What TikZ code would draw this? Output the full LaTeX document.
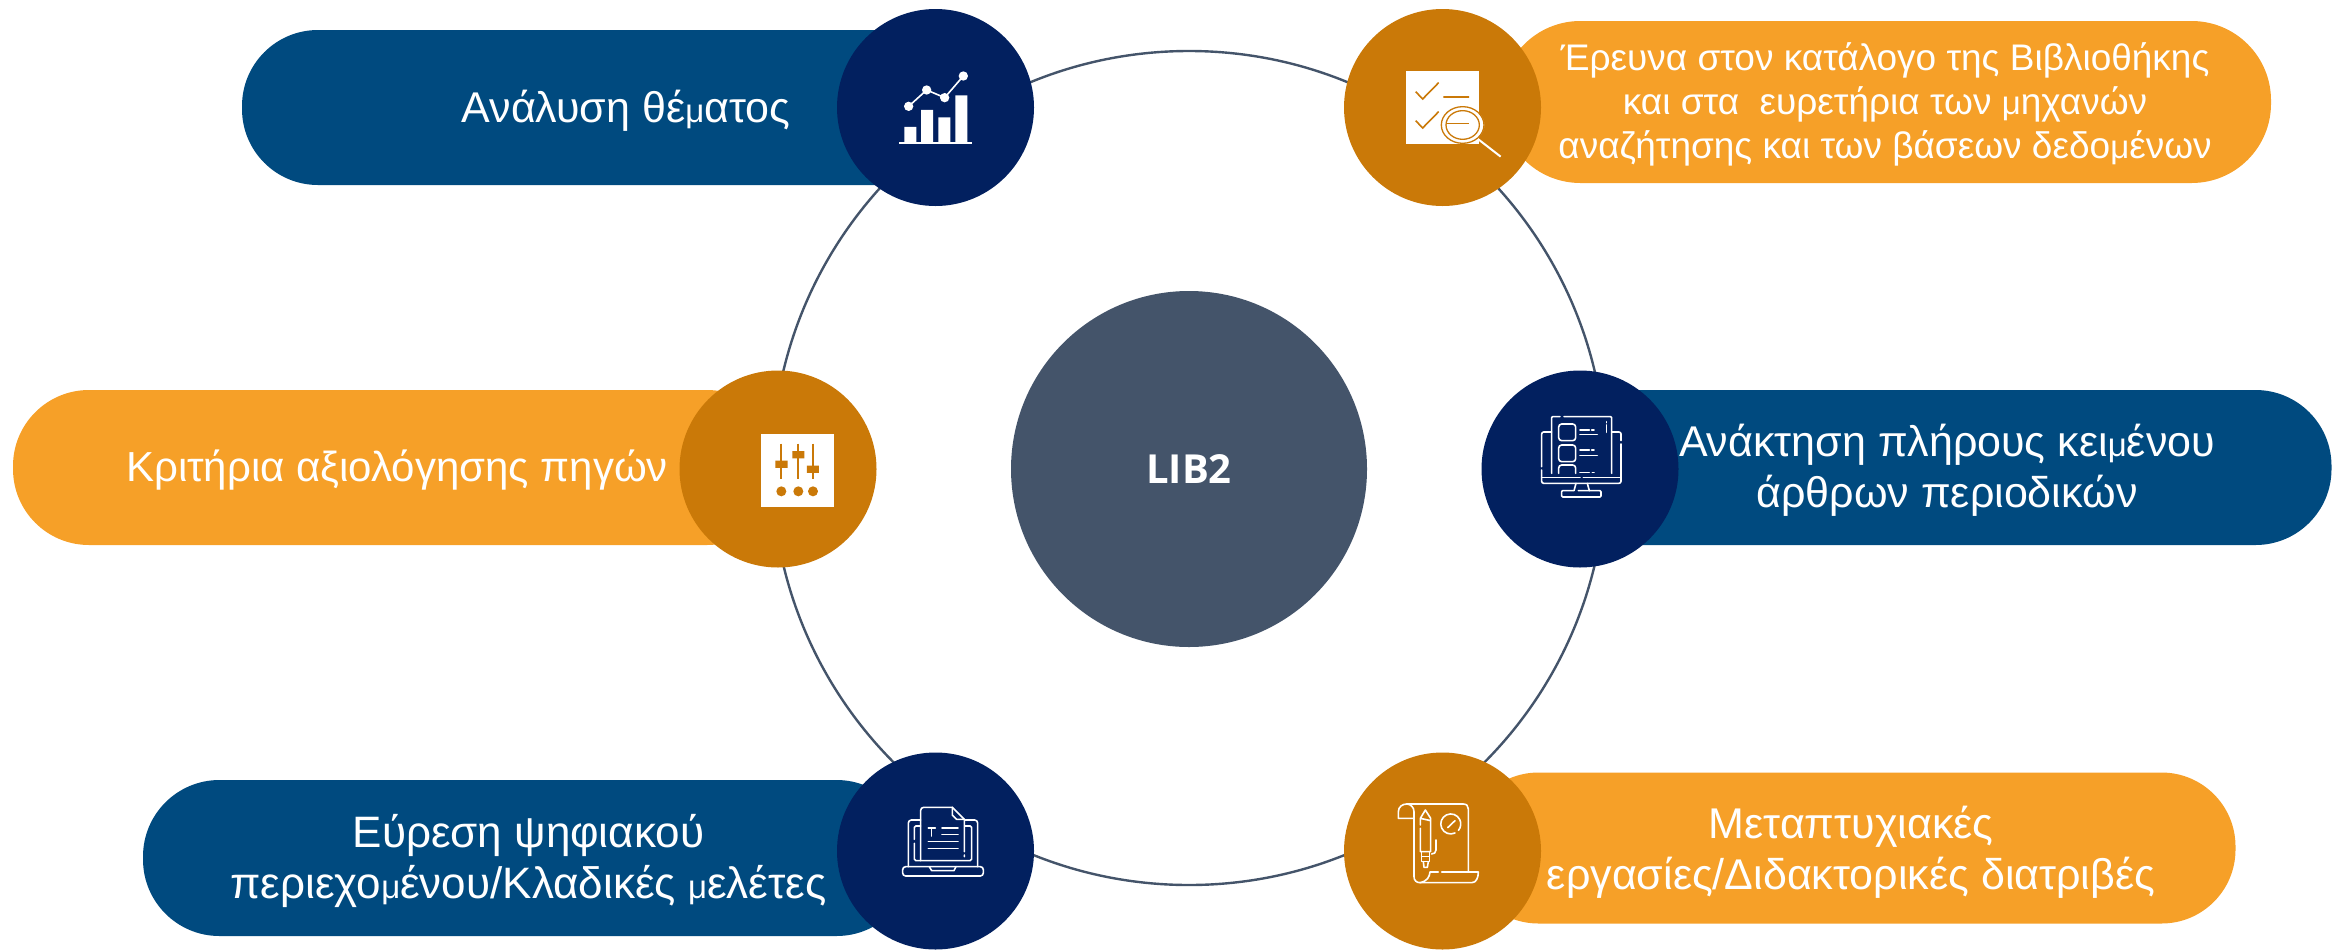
\documentclass[tikz,border=0pt]{standalone}
\usepackage{fontspec}
\setmainfont{Liberation Sans}
\newfontfamily\labfont[Scale=1]{Open Sans}
\definecolor{pillblue}{HTML}{004A7F}
\definecolor{navy}{HTML}{02205F}
\definecolor{pillorange}{HTML}{F6A028}
\definecolor{darkorange}{HTML}{CA7908}
\definecolor{slate}{HTML}{44546A}
\newcommand{\musz}{33}
\newcommand{\smu}{{\fontsize{\musz}{\musz}\selectfont μ}}
\tikzset{
  pill/.style={draw=none,minimum height=#1,rounded corners=0.49*#1,inner sep=0pt},
  disc/.style={circle,minimum size=197,inner sep=0pt,draw=none},
  lab/.style={text=white,align=center,font=\fontsize{43}{51}\selectfont,inner sep=0pt},
  ico/.style={white,line width=1.6pt,line cap=round,line join=round},
  zoomed/.style={x=0.3333pt,y=-0.3333pt}
}
\begin{document}
\begin{tikzpicture}[x=1pt,y=-1pt]
\useasboundingbox (0,0) rectangle (2341,951);
\node[circle,draw=slate,line width=2.4pt,minimum size=834,inner sep=0pt] (ring) at (1189,468) {};
\node[circle,fill=slate,minimum size=356,inner sep=0pt,text=white,font=\labfont\fontsize{40}{44}\fontseries{b}\selectfont] (hub) at (1189,469) {LIB2};

\node[pill=155,fill=pillblue,minimum width=718] (p1) at (601,107.5) {};
\node[pill=162,fill=pillorange,minimum width=770] (p2) at (1886,102) {};
\node[pill=155,fill=pillorange,minimum width=770] (p3) at (398,467.5) {};
\node[pill=155,fill=pillblue,minimum width=791] (p4) at (1936,467.5) {};
\node[pill=156,fill=pillblue,minimum width=770] (p5) at (528,858) {};
\node[pill=151,fill=pillorange,minimum width=771] (p6) at (1850,848) {};

\node[disc,fill=navy] (d1) at (935.5,107.5) {};
\node[disc,fill=darkorange] (d2) at (1442.5,107.5) {};
\node[disc,fill=darkorange] (d3) at (778,469) {};
\node[disc,fill=navy] (d4) at (1580,469) {};
\node[disc,fill=navy] (d5) at (935.5,851) {};
\node[disc,fill=darkorange] (d6) at (1442.5,851) {};

\node[lab] (t1) at (626,111) {Ανάλυση θέ\smu ατος};
\node[lab,font=\fontsize{37}{44}\selectfont] (t2) at (1885,104) {\renewcommand{\musz}{29}Έρευνα στον κατάλογο της Βιβλιοθήκης\\και στα\ \ ευρετήρια των \smu ηχανών\\αναζήτησης και των βάσεων δεδο\smu ένων};
\node[lab,font=\fontsize{42}{51}\selectfont] (t3) at (397,470.5) {Κριτήρια αξιολόγησης πηγών};
\node[lab] (t4) at (1947,470) {Ανάκτηση πλήρους κει\smu ένου\\άρθρων περιοδικών};
\node[lab,font=\fontsize{44}{51}\selectfont] (t5) at (528.5,861) {Εύρεση ψηφιακού\\περιεχο\smu ένου/Κλαδικές \smu ελέτες};
\node[lab] (t6) at (1851,852) {Μεταπτυχιακές\\εργασίες/Διδακτορικές διατριβές};

% icon 1: chart
\begin{scope}[shift={(820,0)},zoomed]
\fill[white] (253,381) rectangle (289,428) (303,330) rectangle (339,428) (355,352) rectangle (391,428) (406,286) rectangle (442,428);
\draw[ico,line cap=butt] (238,429) -- (456,429);
\draw[ico] (266,319) -- (320,270) -- (374,293) -- (430,228);
\fill[white] (266,319) circle (14) (320,270) circle (14) (374,293) circle (14) (430,228) circle (14);
\end{scope}

% icon 2: checklist
\begin{scope}[shift={(1340,0)},zoomed]
\fill[white] (198,214) rectangle (416,432);
\draw[darkorange,line width=1.6pt] (227,275) -- (248,297) -- (296,248) (227,362) -- (248,384) -- (296,335) (310,291) -- (387,291);
\draw[white,line width=2pt] (415,418) -- (482,470);
\fill[white] (368,375) ellipse (65 and 56);
\draw[darkorange,line width=1.3pt] (368,375) ellipse (64 and 55);
\draw[darkorange,line width=1.3pt] (368,375) ellipse (50 and 43);
\draw[darkorange,line width=1.6pt] (320,370) -- (387,370);
\end{scope}

% icon 3: sliders
\begin{scope}[shift={(670,370)},zoomed]
\fill[white] (272,192) rectangle (491,411);
\draw[darkorange,line width=2pt] (334,221) -- (334,327) (385,221) -- (385,327) (429,221) -- (429,327);
\fill[darkorange] (316,272) rectangle (353,294) (367,243) rectangle (403,265) (411,287) rectangle (447,309);
\fill[darkorange] (334,364) circle (15) (385,364) circle (15) (429,364) circle (15);
\end{scope}

% icon 4: monitor
\begin{scope}[shift={(1480,370)},zoomed]
\draw[ico,rounded corners=1pt] (215,310) -- (215,140) -- (240,140) (252,140) -- (395,140) -- (395,310);
\draw[ico,rounded corners=2pt] (215,186) -- (185,186) -- (185,290) (185,300) -- (185,340) -- (423,340) -- (423,222) (423,212) -- (423,186) -- (395,186);
\draw[ico] (185,322) -- (300,322) (310,322) -- (423,322);
\draw[ico] (288,340) -- (282,362) (322,340) -- (328,362);
\draw[ico,rounded corners=1pt] (280,362) -- (245,362) -- (245,381) -- (363,381) -- (363,362) -- (295,362);
\draw[ico,rounded corners=3pt] (236,162) rectangle (287,212) (236,225) rectangle (287,275);
\draw[ico,rounded corners=3pt] (236,310) -- (236,285) -- (287,285) -- (287,310);
\draw[ico] (300,180) -- (328,180) (335,180) -- (342,180) (300,194) -- (352,194)
 (300,240) -- (328,240) (335,240) -- (342,240) (300,257) -- (352,257)
 (300,307) -- (328,307) (337,307) -- (342,307)
 (379,155) -- (379,158) (379,165) -- (379,187);
\end{scope}

% icon 5: laptop
\begin{scope}[shift={(830,750)},zoomed]
\draw[ico,rounded corners=3pt] (218,350) -- (460,350) -- (460,378) -- (218,378) -- cycle;
\draw[ico,rounded corners=3pt] (235,350) -- (235,210) -- (272,210) (405,210) -- (443,210) -- (443,350);
\draw[ico,rounded corners=1.5pt] (253,268) -- (253,228) -- (272,228) (405,228) -- (425,228) -- (425,332) -- (253,332) -- (253,280);
\draw[ico,rounded corners=3pt] (272,332) -- (272,172) -- (367,172);
\draw[ico] (367,172) -- (403,208) -- (403,305) (403,315) -- (403,320);
\draw[ico] (367,172) -- (367,195) -- (380,208) -- (403,208);
\draw[ico] (298,350) -- (305,362) -- (372,362) -- (378,350);
\draw[ico] (295,234) -- (316,234) (305,234) -- (305,258) (336,234) -- (384,234) (336,254) -- (384,254) (295,274) -- (384,274) (295,295) -- (384,295);
\end{scope}

% icon 6: scroll
\begin{scope}[shift={(1340,750)},zoomed]
\draw[ico] (200,162) -- (370,162) .. controls (380,162) and (385,168) .. (385,177) -- (385,365);
\draw[ico] (222,205) -- (175,205) -- (175,185) .. controls (175,170) and (188,162) .. (200,162) .. controls (212,162) and (222,172) .. (222,185) -- (222,380) .. controls (222,392) and (230,398) .. (240,398) -- (395,398) .. controls (408,398) and (415,385) .. (415,366) -- (305,366);
\draw[ico] (295,366) -- (270,366) .. controls (268,382) and (262,393) .. (240,398);
\draw[ico] (241,205) -- (256,180) -- (272,205) -- (272,305) -- (241,305) -- (241,235) (241,225) -- (241,205) -- (272,212);
\draw[ico] (245,305) -- (245,335) -- (268,335) -- (268,305) (245,320) -- (268,320);
\draw[ico] (250,335) -- (252,352) -- (262,352) -- (265,335);
\draw[ico] (288,270) -- (288,300) .. controls (288,308) and (282,312) .. (275,312);
\draw[ico] (345,249) arc[start angle=65,end angle=400,radius=30];
\draw[ico] (323,233) -- (345,212);
\end{scope}
\end{tikzpicture}
\end{document}
